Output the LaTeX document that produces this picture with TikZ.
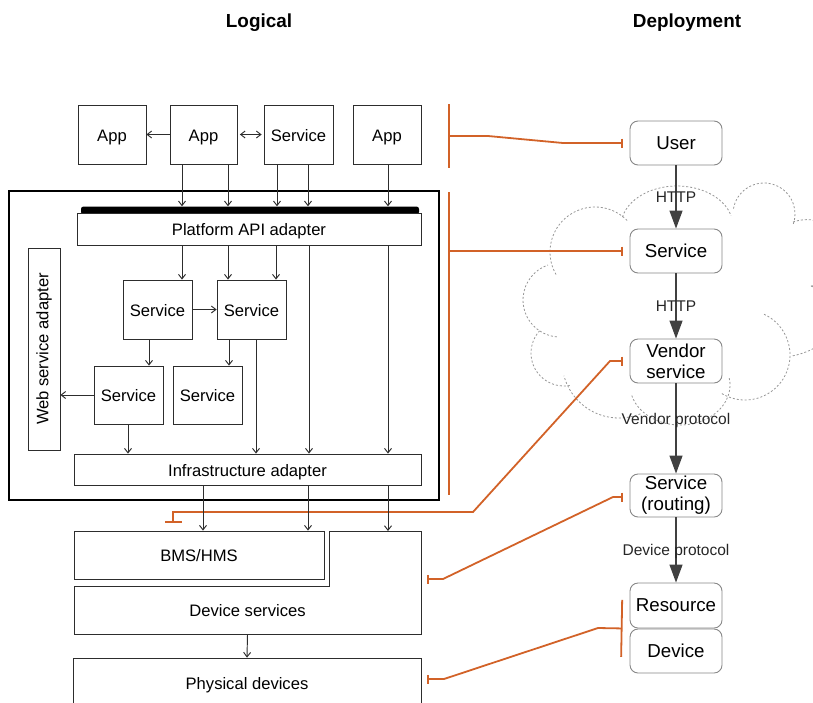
\documentclass[tikz,border=0pt]{standalone}
\usepackage{fontspec}
\setmainfont{Liberation Sans}
\usetikzlibrary{arrows.meta,calc}

\definecolor{orng}{RGB}{210,98,40}
\definecolor{edge}{RGB}{45,45,45}
\definecolor{soft}{RGB}{135,135,135}
\definecolor{puff}{RGB}{150,150,150}

\begin{document}
\begin{tikzpicture}[x=1pt,y=-1pt,
  plainbox/.style={draw=edge, line width=0.8pt, fill=white, inner sep=0pt,
               font=\fontsize{16.6}{19}\selectfont},
  lbox/.style={plainbox, text height=13.5pt, text depth=0pt},
  rbox/.style={draw=soft, line width=0.9pt, rounded corners=8pt, fill=white,
               inner sep=0pt, minimum width=92pt, align=center,
               font=\fontsize{18.7}{21}\selectfont},
  flow/.style={draw=edge, line width=0.95pt, -{Straight Barb[length=4.5pt,width=7pt]}},
  proto/.style={draw=black!75, line width=1.3pt, -{Triangle[length=18pt,width=13pt]}},
  lbl/.style={font=\fontsize{15.5}{18}\selectfont, text=black!85, inner sep=0pt},
  maplink/.style={draw=orng, line width=1.8pt},
  teeend/.style={-{Bar[width=9pt]}},
  cloudline/.style={draw=puff, line width=0.8pt, dash pattern=on 2pt off 2pt},
  title/.style={font=\bfseries\fontsize{18.9}{22}\selectfont}]

\useasboundingbox (0,0) rectangle (813,702);
\clip (0,0) rectangle (813,702);

% column titles
\node[title] (tlog) at (259,23) {Logical};
\node[title] (tdep) at (687,23) {Deployment};

% ---------- cloud around the hosted part of the deployment ----------
\draw[cloudline] (564,353) ++(80:33) arc[start angle=80, end angle=222, radius=33];
\draw[cloudline] (560,300) ++(95:37) arc[start angle=95, end angle=251, radius=37];
\draw[cloudline] (595,252) ++(150:45) arc[start angle=150, end angle=318, radius=45];
\draw[cloudline] (677,226) ++(-56*0.97437,-40*0.22495)
  arc[start angle=193, end angle=345, x radius=56, y radius=40];
\draw[cloudline] (764,214) ++(190:31) arc[start angle=190, end angle=380, radius=31];
\draw[cloudline] (793,222) .. controls (845,205) and (855,285) .. (811,286);
\draw[cloudline] (811,286) .. controls (850,300) and (845,345) .. (792,356);
\draw[cloudline] (745,355) ++(-65:45) arc[start angle=-65, end angle=122, radius=45];
\draw[cloudline] (680,385) ++(50*0.98481,-40*0.17365)
  arc[start angle=-10, end angle=165, x radius=50, y radius=40];
\draw[cloudline] (619,361) ++(68:57) arc[start angle=68, end angle=165, radius=57];

% ---------- deployment view ----------
\node[rbox, minimum height=44pt] (user) at (676,143) {User};
\node[rbox, minimum height=44pt] (svc) at (676,251) {Service};
\node[rbox, minimum height=44pt] (vendor) at (676,361) {Vendor\\service};
\node[rbox, minimum height=43pt] (routing) at (676,495.5) {Service\\(routing)};
\node[rbox, minimum height=45pt] (resource) at (676,605.5) {Resource};
\node[rbox, minimum height=44pt] (device) at (676,651) {Device};

\draw[proto] (user) -- node[lbl, pos=0.5] {HTTP} (svc);
\draw[proto] (svc) -- node[lbl, pos=0.5] {HTTP} (vendor);
\draw[proto] (vendor) -- node[lbl, pos=0.41] {Vendor protocol} (routing);
\draw[proto] (routing) -- node[lbl, pos=0.53] {Device protocol} (resource);

% ---------- logical view ----------
\node[draw=black, line width=2pt, minimum width=430pt, minimum height=309pt,
      inner sep=0pt] (core) at (224,345.5) {};

\node[lbox, minimum width=68pt, minimum height=59pt] (app1) at (112,134.5) {App};
\node[lbox, minimum width=67pt, minimum height=59pt] (app2) at (203.5,134.5) {App};
\node[lbox, minimum width=69pt, minimum height=59pt] (svc0) at (298.5,134.5) {Service};
\node[lbox, minimum width=68pt, minimum height=59pt] (app4) at (387,134.5) {App};

\node[fill=black, rounded corners=2.5pt, minimum width=338pt, minimum height=8pt,
      inner sep=0pt] (bus) at (250,210.5) {};
\node[lbox, minimum width=344pt, minimum height=32pt] (plat) at (249,229) {Platform API adapter};

\node[lbox, minimum width=69pt, minimum height=59pt] (svcA) at (157.5,309.5) {Service};
\node[lbox, minimum width=69pt, minimum height=59pt] (svcB) at (251.5,309.5) {Service};
\node[lbox, minimum width=69pt, minimum height=58pt] (svcC) at (128.5,395) {Service};
\node[lbox, minimum width=69pt, minimum height=58pt] (svcD) at (207.5,395) {Service};

\node[plainbox, minimum width=32pt, minimum height=202pt] (web) at (44,349)
  {\rotatebox{90}{Web service adapter}};

\node[lbox, minimum width=347pt, minimum height=31pt] (infra) at (247.5,469.5) {Infrastructure adapter};

% device layer: BMS/HMS sits in the notch of the device services block
\draw[draw=edge, line width=0.8pt] (74,586) -- (329,586) -- (329,531) -- (421,531)
  -- (421,634) -- (74,634) -- cycle;
\node[inner sep=0pt, minimum width=347pt, minimum height=48pt, text height=13.5pt,
      text depth=0pt, font=\fontsize{16.6}{19}\selectfont] (devsvc) at (247.5,610) {Device services};
\coordinate (devtop) at (388,531);
\node[lbox, minimum width=250pt, minimum height=48pt] (bms) at (199,555) {BMS/HMS};
\node[lbox, minimum width=348pt, minimum height=50pt] (phys) at (247,683) {Physical devices};

% ---------- mapping between the two views ----------
\draw[maplink] (449,104) -- (449,168);
\draw[maplink] (449,192) -- (449,495);
\draw[maplink, teeend] (449,136) -- (488,136) -- (563,143) -- ([xshift=-7pt]user.west);
\draw[maplink, teeend] (449,251) -- ([xshift=-7pt]svc.west);
\draw[maplink, {Bar[width=17pt]}-{Bar[width=9pt]}]
  (173,523) -- (173,512) -- (473,512) -- (610,361) -- ([xshift=-7pt]vendor.west);
\draw[maplink, {Bar[width=9pt]}-{Bar[width=9pt]}]
  (427,579) -- (443,579) -- (613,497) -- (623,497);
\draw[maplink, {Bar[width=9pt]}-{Bar[width=57pt]}]
  (427,679) -- (444,679) -- (598,628) -- ([xshift=-7pt]resource.south west);

% ---------- logical flows ----------
\draw[flow] (app2.west) -- (app1.east);
\draw[flow, {Straight Barb[length=4.5pt,width=7pt]}-{Straight Barb[length=4.5pt,width=7pt]},
      shorten <=2.5pt, shorten >=2pt] (app2.east) -- (svc0.west);

\foreach \x in {182,228}
  \draw[flow] (\x,0 |- app2.south) -- (\x,0 |- bus.north);
\foreach \x in {277,308}
  \draw[flow] (\x,0 |- svc0.south) -- (\x,0 |- bus.north);
\draw[flow] (388,0 |- app4.south) -- (388,0 |- bus.north);

\draw[flow] (182,0 |- plat.south) -- (182,0 |- svcA.north);
\draw[flow] (228,0 |- plat.south) -- (228,0 |- svcB.north);
\draw[flow] (276,0 |- plat.south) -- (276,0 |- svcB.north);
\draw[flow] (309,0 |- plat.south) -- (309,0 |- infra.north);
\draw[flow] (388,0 |- plat.south) -- (388,0 |- infra.north);

\draw[flow] (svcA.east) -- (svcB.west);
\draw[flow] (149,0 |- svcA.south) -- (149,0 |- svcC.north);
\draw[flow] (229,0 |- svcB.south) -- (229,0 |- svcD.north);
\draw[flow] (256,0 |- svcB.south) -- (256,0 |- infra.north);
\draw[flow] (svcC.west) -- (web.east |- svcC.west);
\draw[flow] (128,0 |- svcC.south) -- (128,0 |- infra.north);

\draw[flow] (203,0 |- infra.south) -- (203,0 |- bms.north);
\draw[flow] (308,0 |- infra.south) -- (308,0 |- bms.north);
\draw[flow] (388,0 |- infra.south) -- (devtop);
\draw[flow] (devsvc.south) -- (phys.north);

\end{tikzpicture}
\end{document}
